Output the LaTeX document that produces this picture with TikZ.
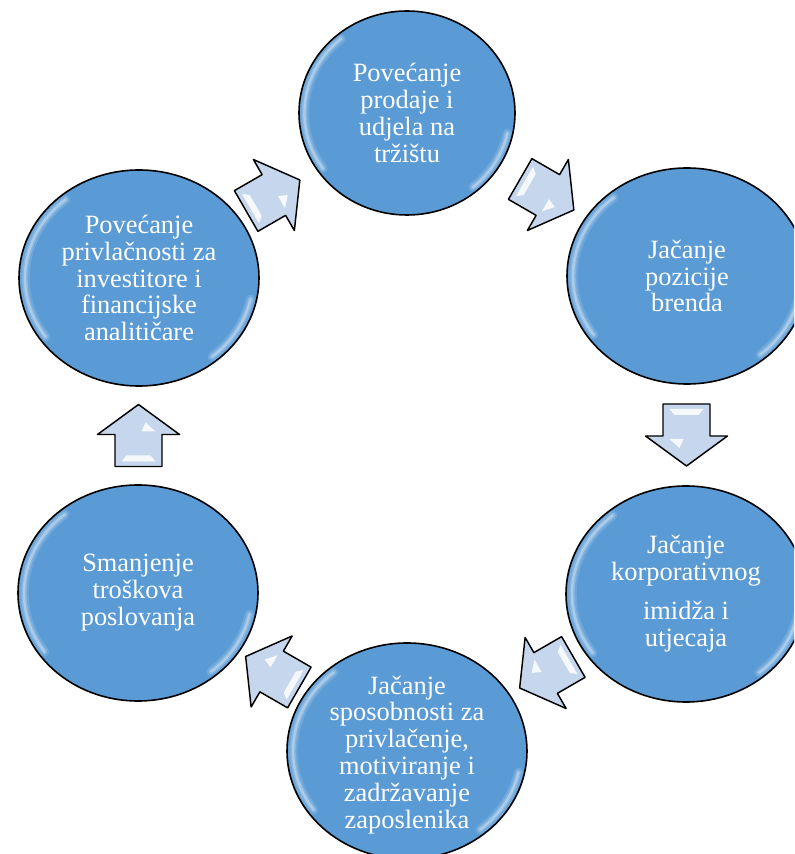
\documentclass[tikz,border=0pt]{standalone}
\usepackage{fontspec}
\setmainfont{Liberation Serif}
\usetikzlibrary{shapes.geometric,calc}
\definecolor{bubblefill}{HTML}{5B9BD5}
\definecolor{arrowfill}{HTML}{C6D7ED}
\tikzset{
  cyclearrow/.pic={
    \draw[line width=1.1pt, fill=arrowfill, line join=round]
      (-31,-23.5) -- (1,-23.5) -- (1,-41) -- (31,0) -- (1,41) -- (1,23.5) -- (-31,23.5) -- cycle;
    \fill[white, opacity=.85] (-26,-17) -- (-20,-12) -- (-20,12) -- (-26,17) -- cycle;
    \fill[white, opacity=.85] (4,-17) -- (13,-7) -- (4,-3) -- cycle;
  },
  glossarc/.style={white, line cap=round}
}
\begin{document}
\begin{tikzpicture}[x=0.75pt, y=0.75pt,
    bubble/.style={ellipse, draw=black, line width=1.2pt, fill=bubblefill,
      minimum width=180pt, minimum height=162pt, inner sep=0pt,
      path picture={
        \coordinate (pc) at (path picture bounding box.center);
        \coordinate (pe) at (path picture bounding box.east);
        \coordinate (pn) at (path picture bounding box.north);
        \foreach \w/\o in {7pt/.12, 4pt/.18, 1.8pt/.3}{
          \draw[glossarc, opacity=\o, line width=\w]
            let \p1=($(pe)-(pc)$), \p2=($(pn)-(pc)$) in
            ($(pc)+({0.95*\x1*cos(130)},{0.95*\y2*sin(130)})$)
            arc[start angle=130, end angle=215, x radius=0.95*\x1, y radius=0.95*\y2];
          \draw[glossarc, opacity=\o, line width=\w]
            let \p1=($(pe)-(pc)$), \p2=($(pn)-(pc)$) in
            ($(pc)+({0.95*\x1*cos(-50)},{0.95*\y2*sin(-50)})$)
            arc[start angle=-50, end angle=-12, x radius=0.95*\x1, y radius=0.95*\y2];
        }
      }},
    bubbletext/.style={text=white, align=center, font=\fontsize{19.8}{20.2}\selectfont}]
  \useasboundingbox (0,0) rectangle (794,854);
  \clip (0,0) rectangle (794,854);
  \node[bubble, minimum width=162pt, minimum height=153pt] (n1) at (407,741) {};
  \node[bubble] (n2) at (687,578) {};
  \node[bubble] (n3) at (686,260) {};
  \node[bubble] (n4) at (407,103) {};
  \node[bubble] (n5) at (138,261) {};
  \node[bubble] (n6) at (139,576) {};
  \node[bubbletext] (n1t) at (n1) {Povećanje\\prodaje i\\udjela na\\tržištu};
  \node[bubbletext] (n2t) at (n2) {Jačanje\\pozicije\\brenda};
  \node[bubbletext] (n3t) at (n3) {Jačanje\\korporativnog\\[9pt]imidža i\\utjecaja};
  \node[bubbletext] (n4t) at ([yshift=-3]n4) {Jačanje\\sposobnosti za\\privlačenje,\\motiviranje i\\zadržavanje\\zaposlenika};
  \node[bubbletext] (n5t) at (n5) {Smanjenje\\troškova\\poslovanja};
  \node[bubbletext] (n6t) at (n6) {Povećanje\\privlačnosti za\\investitore i\\financijske\\analitičare};
  \pic[rotate=30] at ($(n6)!0.5!(n1)$) {cyclearrow};
  \pic[rotate=-30] at ($(n1)!0.5!(n2)$) {cyclearrow};
  \pic[rotate=-90] at ($(n2)!0.5!(n3)$) {cyclearrow};
  \pic[rotate=-150] at ($(n3)!0.5!(n4)$) {cyclearrow};
  \pic[rotate=150] at ($(n4)!0.5!(n5)$) {cyclearrow};
  \pic[rotate=90] at ($(n5)!0.5!(n6)$) {cyclearrow};
\end{tikzpicture}
\end{document}
